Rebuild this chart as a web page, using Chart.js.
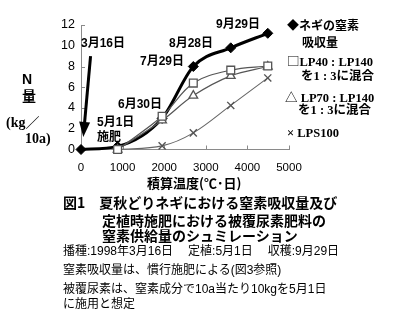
<!DOCTYPE html>
<html><head><meta charset="utf-8">
<script src="https://cdn.jsdelivr.net/npm/chart.js@4.4.0/dist/chart.umd.min.js"></script>
<style>
html,body{margin:0;padding:0;background:#fff;}
#wrap{position:relative;width:400px;height:314px;overflow:hidden;background:#fff;}
#c{position:absolute;left:0;top:0;}
.t{position:absolute;white-space:nowrap;color:#000;}
.jb{font-family:"Liberation Sans","Noto Sans CJK JP",sans-serif;font-weight:bold;}
.jn{font-family:"Liberation Sans","Noto Sans CJK JP",sans-serif;font-weight:normal;}
.sb{font-family:"Liberation Serif","Noto Sans CJK JP",serif;font-weight:bold;}
.g{font-family:"Noto Sans CJK JP",sans-serif;font-weight:bold;}
.gap{display:inline-block;width:15px;}
</style></head>
<body>
<div id="wrap">
<canvas id="c" width="400" height="314"></canvas>

<!-- y axis title -->
<div class="t jb" style="left:22px;top:70px;font-size:14px;line-height:18px;">N</div>
<div class="t g" style="left:22px;top:86px;font-size:14px;line-height:18px;">量</div>
<div class="t sb" style="left:6px;top:112px;font-size:14px;line-height:18px;">(kg<span class="g" style="font-weight:normal">／</span></div>
<div class="t sb" style="left:25px;top:130px;font-size:14px;line-height:18px;">10a)</div>

<!-- annotations -->
<div class="t jb" style="left:81px;top:35px;font-size:12px;line-height:16px;">3月16日</div>
<div class="t jb" style="left:97px;top:114px;font-size:12px;line-height:16px;">5月1日</div>
<div class="t jb" style="left:97px;top:129px;font-size:12px;line-height:16px;">施肥</div>
<div class="t jb" style="left:118px;top:96px;font-size:12px;line-height:16px;">6月30日</div>
<div class="t jb" style="left:140px;top:53px;font-size:12px;line-height:16px;">7月29日</div>
<div class="t jb" style="left:169px;top:35px;font-size:12px;line-height:16px;">8月28日</div>
<div class="t jb" style="left:216px;top:16px;font-size:12px;line-height:16px;">9月29日</div>

<!-- legend -->
<div class="t g" style="left:287px;top:17px;font-size:12px;line-height:16px;">◆ネギの窒素</div>
<div class="t g" style="left:302px;top:34px;font-size:12px;line-height:16px;">吸収量</div>
<div class="t sb" style="left:287px;top:53px;font-size:12.5px;line-height:16px;"><span class="g" style="font-weight:normal">□</span>LP40 : LP140</div>
<div class="t sb" style="left:301px;top:68px;font-size:12.5px;line-height:16px;">を1 : 3に混合</div>
<div class="t sb" style="left:285px;top:89px;font-size:12.5px;line-height:16px;"><span class="g" style="font-weight:normal">△</span> LP70 : LP140</div>
<div class="t sb" style="left:298px;top:102px;font-size:12.5px;line-height:16px;">を1 : 3に混合</div>
<div class="t sb" style="left:287px;top:125px;font-size:12.5px;line-height:16px;">× LPS100</div>

<!-- captions -->
<div class="t g" style="left:147px;top:174px;font-size:13px;line-height:18px;">積算温度(℃･日)</div>
<div class="t g" style="left:63px;top:193px;font-size:14px;line-height:19px;">図1　夏秋どりネギにおける窒素吸収量及び</div>
<div class="t g" style="left:102px;top:211px;font-size:14px;line-height:19px;">定植時施肥における被覆尿素肥料の</div>
<div class="t g" style="left:102px;top:226px;font-size:14px;line-height:19px;">窒素供給量のシュミレーション</div>
<div class="t jn" style="left:63px;top:243px;font-size:12px;line-height:17px;">播種:1998年3月16日<span class="gap"></span>定植:5月1日<span class="gap"></span>収穫:9月29日</div>
<div class="t jn" style="left:63px;top:262px;font-size:12px;line-height:17px;">窒素吸収量は、慣行施肥による(図3参照)</div>
<div class="t jn" style="left:63px;top:281px;font-size:12px;line-height:17px;">被覆尿素は、窒素成分で10a当たり10kgを5月1日</div>
<div class="t jn" style="left:63px;top:296px;font-size:12px;line-height:17px;">に施用と想定</div>
</div>

<script>
// ---- data ----
const tempUptake = [0, 880, 1950, 2700, 3600, 4490];      // 積算温度 for ネギ
const uptake     = [0, 0.3, 3.0, 8.0, 9.8, 11.2];          // ネギの窒素吸収量
const tempFert   = [880, 1950, 2700, 3600, 4490];          // 積算温度 for fertilizers
const lp40mix    = [0, 3.2, 6.4, 7.65, 8.05];              // LP40:LP140 1:3
const lp70mix    = [0, 2.8, 5.2, 7.1, 8.0];                // LP70:LP140 1:3
const lps100     = [0, 0.35, 1.6, 4.25, 6.9];              // LPS100
const xTicks = [0, 1000, 2000, 3000, 4000, 5000];
const yTicks = [0, 2, 4, 6, 8, 10, 12];
// arrow annotation (data units): from below the 3月16日 label down to the 3/16 point
const arrowFrom = {x: 230, y: 9.0};
const arrowTo   = {x: 55,  y: 1.2};

const pts = (xs, ys) => xs.map((x, i) => ({x, y: ys[i]}));

const decor = {
  id: 'decor',
  beforeDatasetsDraw(chart) {
    const {ctx, scales: {x, y}, chartArea: a} = chart;
    ctx.save();
    ctx.strokeStyle = '#8a8a8a'; ctx.lineWidth = 1;
    xTicks.forEach(v => {
      const px = Math.round(x.getPixelForValue(v)) + 0.5;
      ctx.beginPath(); ctx.moveTo(px, a.bottom); ctx.lineTo(px, a.bottom - 4); ctx.stroke();
    });
    yTicks.forEach(v => {
      const py = Math.round(y.getPixelForValue(v)) + 0.5;
      ctx.beginPath(); ctx.moveTo(a.left, py); ctx.lineTo(a.left + 4, py); ctx.stroke();
    });
    ctx.restore();
  },
  afterDraw(chart) {
    const {ctx, scales: {x, y}} = chart;
    const x1 = x.getPixelForValue(arrowFrom.x), y1 = y.getPixelForValue(arrowFrom.y);
    const x2 = x.getPixelForValue(arrowTo.x),   y2 = y.getPixelForValue(arrowTo.y);
    const dx = x2 - x1, dy = y2 - y1, len = Math.hypot(dx, dy);
    const ux = dx / len, uy = dy / len;
    const head = 15, hw = 5.5;
    const bx = x2 - ux * head, by = y2 - uy * head;
    ctx.save();
    ctx.strokeStyle = '#000'; ctx.fillStyle = '#000'; ctx.lineWidth = 3;
    ctx.beginPath(); ctx.moveTo(x1, y1); ctx.lineTo(bx + ux * 2, by + uy * 2); ctx.stroke();
    ctx.beginPath();
    ctx.moveTo(x2, y2);
    ctx.lineTo(bx - uy * hw, by + ux * hw);
    ctx.lineTo(bx + uy * hw, by - ux * hw);
    ctx.closePath(); ctx.fill();
    ctx.restore();
  }
};

new Chart(document.getElementById('c'), {
  type: 'scatter',
  data: {
    datasets: [
      { label: 'LP40:LP140を1:3に混合', data: pts(tempFert, lp40mix), showLine: true,
        borderColor: '#555', borderWidth: 1.2, pointStyle: 'rect', pointRadius: 5.5,
        pointBackgroundColor: '#fff', pointBorderColor: '#555', pointBorderWidth: 1.3,
        tension: 0.35, clip: false, order: 0 },
      { label: 'LP70:LP140を1:3に混合', data: pts(tempFert, lp70mix), showLine: true,
        borderColor: '#555', borderWidth: 1.2, pointStyle: 'triangle', pointRadius: 5,
        pointBackgroundColor: '#fff', pointBorderColor: '#555', pointBorderWidth: 1.3,
        tension: 0.35, clip: false, order: 1 },
      { label: 'LPS100', data: pts(tempFert, lps100), showLine: true,
        borderColor: '#666', borderWidth: 1.1, pointStyle: 'crossRot', pointRadius: 5,
        pointBorderColor: '#555', pointBorderWidth: 1.4,
        tension: 0.35, clip: false, order: 2 },
      { label: 'ネギの窒素吸収量', data: pts(tempUptake, uptake), showLine: true,
        borderColor: '#000', borderWidth: 3, pointStyle: 'rectRot', pointRadius: 5,
        pointBackgroundColor: '#000', pointBorderColor: '#000', pointBorderWidth: 1,
        cubicInterpolationMode: 'monotone', clip: false, order: 3 }
    ]
  },
  options: {
    responsive: false, animation: false, devicePixelRatio: 1,
    layout: { padding: { left: 0, right: 111, top: 25, bottom: 0 } },
    plugins: { legend: { display: false }, tooltip: { enabled: false } },
    scales: {
      x: {
        type: 'linear', min: 0, max: 5000,
        afterBuildTicks: s => { s.ticks = xTicks.map(v => ({value: v})); },
        grid: { drawOnChartArea: false, drawTicks: false },
        border: { display: true, color: '#8a8a8a', width: 1 },
        ticks: { padding: 11, color: '#000', maxRotation: 0, autoSkip: false,
                 font: { family: 'Liberation Sans', size: 11.5 },
                 callback: v => String(v) },
        afterFit: s => { s.height = 164.5; }
      },
      y: {
        type: 'linear', min: 0, max: 12,
        afterBuildTicks: s => { s.ticks = yTicks.map(v => ({value: v})); },
        grid: { drawOnChartArea: false, drawTicks: false },
        border: { display: true, color: '#8a8a8a', width: 1 },
        ticks: { padding: 6, color: '#000', autoSkip: false,
                 font: { family: 'Liberation Sans', size: 12.5 },
                 callback: v => String(v) },
        afterFit: s => { s.width = 81; }
      }
    }
  },
  plugins: [decor]
});
</script>
</body></html>
